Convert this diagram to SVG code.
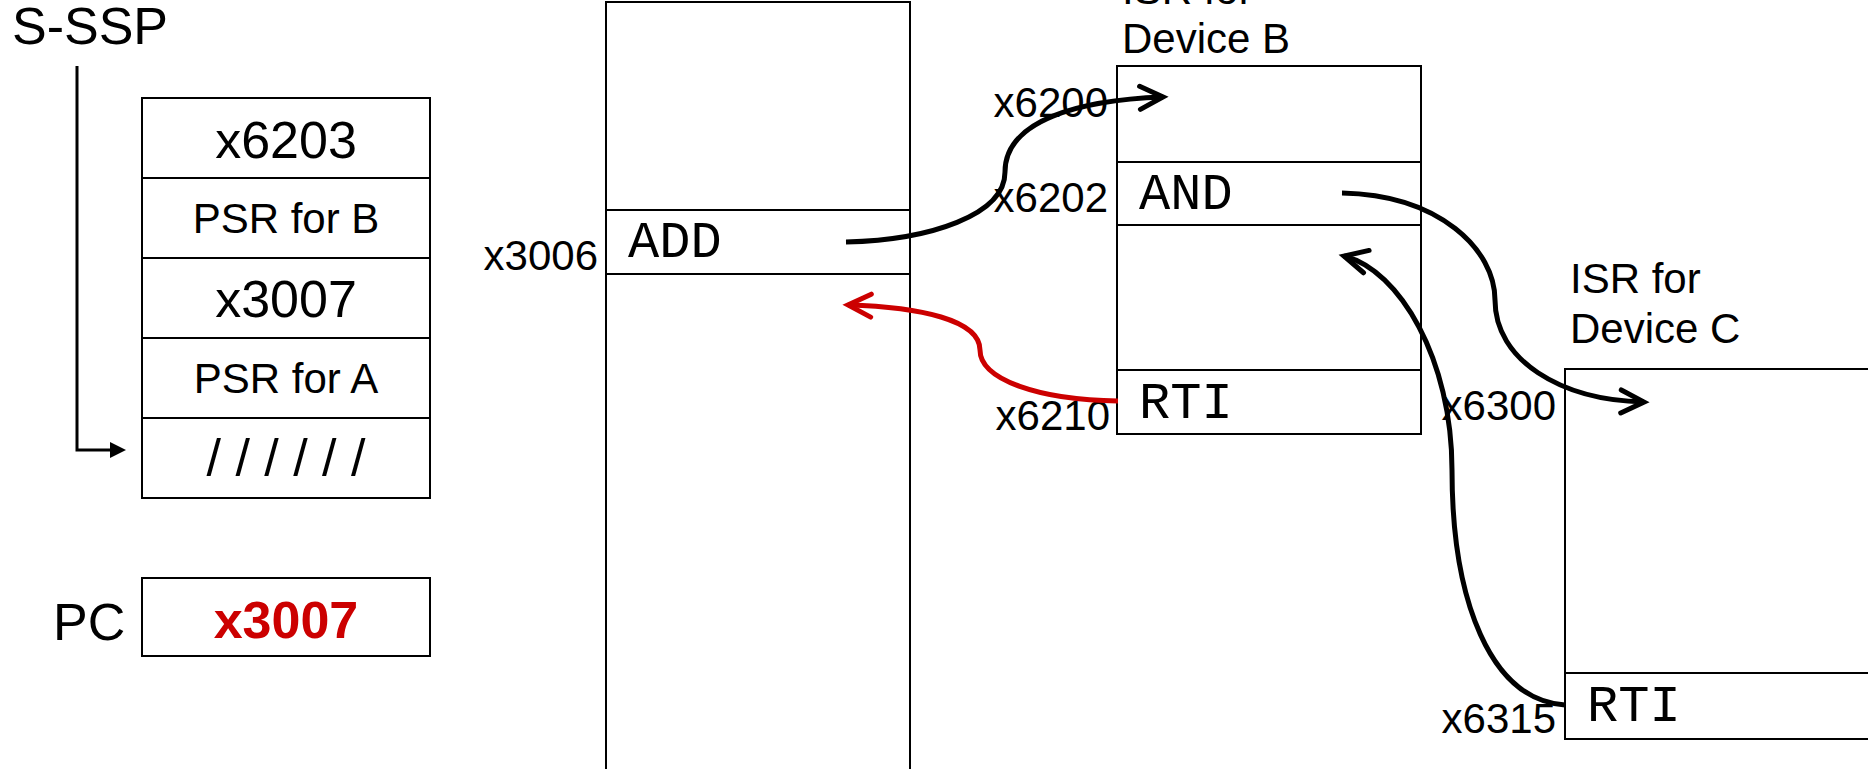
<svg xmlns="http://www.w3.org/2000/svg" width="1868" height="769" viewBox="0 0 1868 769">
<style>
.box{fill:#fff;stroke:#000;stroke-width:2}
.ln{stroke:#000;stroke-width:2;fill:none}
.big{font-family:"Liberation Sans",Arial,sans-serif;font-size:52px;fill:#000}
.med{font-family:"Liberation Sans",Arial,sans-serif;font-size:42px;fill:#000}
.mono{font-family:"Liberation Mono","Courier New",monospace;font-size:52px;fill:#000}
.c{text-anchor:middle}
.e{text-anchor:end}
.red{fill:#cc0000;font-weight:bold}
.conn{fill:none;stroke:#000;stroke-width:5}
.connr{fill:none;stroke:#cc0000;stroke-width:5}
</style>
<defs>
<marker id="ah" markerUnits="userSpaceOnUse" markerWidth="36" markerHeight="36" viewBox="-30 -18 36 36" refX="0" refY="0" orient="auto">
<path d="M-23,-11.5 L0,0 L-23,11.5" fill="none" stroke="#000" stroke-width="5" stroke-linecap="round" stroke-linejoin="miter"/>
</marker>
<marker id="ahr" markerUnits="userSpaceOnUse" markerWidth="36" markerHeight="36" viewBox="-30 -18 36 36" refX="0" refY="0" orient="auto">
<path d="M-23,-11.5 L0,0 L-23,11.5" fill="none" stroke="#cc0000" stroke-width="5" stroke-linecap="round" stroke-linejoin="miter"/>
</marker>
<marker id="tri" markerUnits="userSpaceOnUse" markerWidth="20" markerHeight="20" viewBox="0 -10 20 20" refX="0" refY="0" orient="auto">
<path d="M0,-8 L16,0 L0,8 Z" fill="#000"/>
</marker>
</defs>

<g id="sssp">
<text class="big" x="12" y="44">S-SSP</text>
</g>

<g id="stack">
<rect class="box" x="142" y="98" width="288" height="400"/>
<line class="ln" x1="142" y1="178" x2="430" y2="178"/>
<line class="ln" x1="142" y1="258" x2="430" y2="258"/>
<line class="ln" x1="142" y1="338" x2="430" y2="338"/>
<line class="ln" x1="142" y1="418" x2="430" y2="418"/>
<text class="big c" x="286" y="158">x6203</text>
<text class="med c" x="286" y="233">PSR for B</text>
<text class="big c" x="286" y="317">x3007</text>
<text class="med c" x="286" y="393">PSR for A</text>
<text class="big c" x="286" y="476">/ / / / / /</text>
</g>

<g id="pc">
<text class="big" x="53" y="640">PC</text>
<rect class="box" x="142" y="578" width="288" height="78"/>
<text class="big c red" x="286" y="638">x3007</text>
</g>

<g id="memory">
<rect class="box" x="606" y="2" width="304" height="800"/>
<line class="ln" x1="606" y1="210" x2="910" y2="210"/>
<line class="ln" x1="606" y1="274" x2="910" y2="274"/>
<text class="mono" x="628" y="257">ADD</text>
<text class="med e" x="598" y="270">x3006</text>
</g>

<g id="isrB">
<text class="med" x="1122" y="4">ISR for</text>
<text class="med" x="1122" y="53">Device B</text>
<rect class="box" x="1117" y="66" width="304" height="368"/>
<line class="ln" x1="1117" y1="162" x2="1421" y2="162"/>
<line class="ln" x1="1117" y1="225" x2="1421" y2="225"/>
<line class="ln" x1="1117" y1="370" x2="1421" y2="370"/>
<text class="mono" x="1139" y="209">AND</text>
<text class="mono" x="1139" y="418">RTI</text>
<text class="med e" x="1108" y="117">x6200</text>
<text class="med e" x="1108" y="212">x6202</text>
<text class="med e" x="1110" y="430">x6210</text>
</g>

<g id="isrC">
<text class="med" x="1570" y="293">ISR for</text>
<text class="med" x="1570" y="343">Device C</text>
<rect class="box" x="1565" y="369" width="320" height="370"/>
<line class="ln" x1="1565" y1="673" x2="1868" y2="673"/>
<text class="mono" x="1587" y="721">RTI</text>
<text class="med e" x="1556" y="420">x6300</text>
<text class="med e" x="1556" y="733">x6315</text>
</g>

<g id="connectors">
<polyline points="77,66 77,450 110,450" fill="none" stroke="#000" stroke-width="3" marker-end="url(#tri)"/>
<path class="conn" d="M846,242 C930,240 1005,215 1005,172 C1005,120 1080,100 1163,97" marker-end="url(#ah)"/>
<path class="connr" d="M1118,401 C1040,400 980,380 980,350 C980,320 920,307 848,305" marker-end="url(#ahr)"/>
<path class="conn" d="M1342,193 C1440,195 1495,250 1495,300 C1495,360 1560,400 1644,402" marker-end="url(#ah)"/>
<path class="conn" d="M1565,705 C1490,700 1452,600 1452,470 C1452,360 1400,270 1344,256" marker-end="url(#ah)"/>
</g>
</svg>
